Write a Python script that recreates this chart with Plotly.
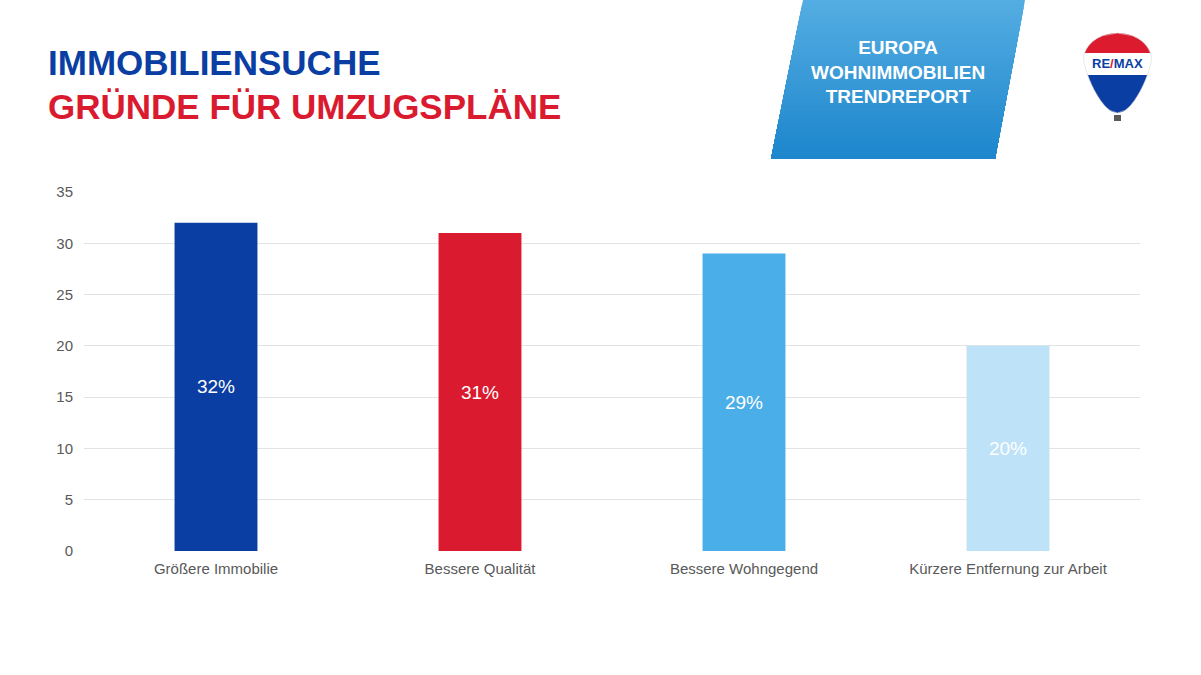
import plotly.graph_objects as go
import numpy as np

# ---------------- data ----------------
categories = ["Größere Immobilie", "Bessere Qualität", "Bessere Wohngegend",
              "Kürzere Entfernung zur Arbeit"]
values = [32, 31, 29, 20]
value_labels = ["32%", "31%", "29%", "20%"]
bar_colors = ["#0A3EA3", "#DA1B2F", "#4AAEE8", "#BEE2F7"]
y_ticks = [0, 5, 10, 15, 20, 25, 30, 35]
title_line1 = "IMMOBILIENSUCHE"
title_line2 = "GRÜNDE FÜR UMZUGSPLÄNE"
banner_lines = ["EUROPA", "WOHNIMMOBILIEN", "TRENDREPORT"]

# ---------------- helpers ----------------
W, H = 1201, 675
FONT = "Liberation Sans, Arial, sans-serif"


def px(x):
    return x / W


def py(y):
    return 1 - y / H


def poly_path(points):
    s = "M " + " L ".join(f"{px(x):.5f},{py(y):.5f}" for x, y in points) + " Z"
    return s


fig = go.Figure(
    go.Bar(
        x=categories,
        y=values,
        text=value_labels,
        textposition="inside",
        insidetextanchor="middle",
        textangle=0,
        constraintext="none",
        textfont=dict(color="white", size=19, family=FONT),
        marker=dict(color=bar_colors, line=dict(width=0)),
        width=0.314,
        hoverinfo="skip",
    )
)

shapes = []

# ----- banner (parallelogram with vertical gradient) -----
top_c = np.array([0x55, 0xAD, 0xE2])
bot_c = np.array([0x1C, 0x86, 0xCC])
N = 40
y0b, y1b = 0.0, 159.0


def left_x(y):
    return 803 + (771 - 803) * (y - y0b) / (y1b - y0b)


def right_x(y):
    return 1025 + (995 - 1025) * (y - y0b) / (y1b - y0b)


for i in range(N):
    ya = y0b + (y1b - y0b) * i / N
    yb = y1b
    t = (i + 0.5) / N
    c = top_c + (bot_c - top_c) * t
    col = "rgb({:.0f},{:.0f},{:.0f})".format(*c)
    shapes.append(dict(
        type="path", xref="paper", yref="paper", layer="above",
        path=poly_path([(left_x(ya), ya), (right_x(ya), ya),
                        (right_x(yb), yb), (left_x(yb), yb)]),
        fillcolor=col, line=dict(width=0)))

# ----- RE/MAX balloon -----
cx, ytop, ymid, ybot, R = 1117.5, 33.0, 60.0, 113.0, 34.0


def half_w(y):
    if y <= ymid:
        t = (ymid - y) / (ymid - ytop)
        return R * np.sqrt(max(0.0, 1 - t * t))
    t = (y - ymid) / (ybot - ymid)
    return R * np.sqrt(max(0.0, 1 - t * t)) * (1 - 0.3 * t)


def band(ya, yb, n=30):
    ys = np.linspace(ya, yb, n)
    left = [(cx - half_w(y), y) for y in ys]
    right = [(cx + half_w(y), y) for y in ys[::-1]]
    return left + right


for (ya, yb, col) in [(ytop, 53.0, "#DC1C2E"), (53.0, 75.0, "#FFFFFF"),
                      (75.0, ybot, "#0A3EA3")]:
    shapes.append(dict(type="path", xref="paper", yref="paper", layer="above",
                       path=poly_path(band(ya, yb)), fillcolor=col,
                       line=dict(width=0)))
shapes.append(dict(type="path", xref="paper", yref="paper", layer="above",
                   path=poly_path(band(ytop, ybot)), fillcolor="rgba(0,0,0,0)",
                   line=dict(width=0.6, color="#D8D8D8")))
# basket
shapes.append(dict(type="rect", xref="paper", yref="paper", layer="above",
                   x0=px(1114), x1=px(1121), y0=py(121), y1=py(115),
                   fillcolor="#5A5A5A", line=dict(width=0)))

annotations = [
    dict(text=f"<b>{title_line1}</b>", x=px(46), y=py(62), xref="paper",
         yref="paper", xanchor="left", yanchor="middle", showarrow=False,
         font=dict(family=FONT, size=35, color="#0A3EA3")),
    dict(text=f"<b>{title_line2}</b>", x=px(46), y=py(106), xref="paper",
         yref="paper", xanchor="left", yanchor="middle", showarrow=False,
         font=dict(family=FONT, size=35, color="#DA1B2F")),
    dict(text="<br>".join(f"<b>{l}</b>" for l in banner_lines),
         x=px(898), y=py(72), xref="paper", yref="paper", xanchor="center",
         yanchor="middle", showarrow=False, align="center",
         font=dict(family=FONT, size=19, color="white")),
    dict(text="<b>RE<span style='color:#DC1C2E'>/</span>MAX</b>",
         x=px(cx), y=py(63), xref="paper", yref="paper", xanchor="center",
         yanchor="middle", showarrow=False,
         font=dict(family=FONT, size=13, color="#0A3EA3")),
]

fig.update_layout(
    width=W, height=H,
    margin=dict(l=0, r=0, t=0, b=0, pad=0, autoexpand=False),
    paper_bgcolor="white", plot_bgcolor="white",
    showlegend=False,
    bargap=0.686,
    font=dict(family=FONT, size=15, color="#595959"),
    xaxis=dict(domain=[84 / W, 1140 / W], automargin=False, showgrid=False,
               showline=False, ticks="", zeroline=False,
               ticklabelstandoff=7,
               tickfont=dict(size=15, color="#595959")),
    yaxis=dict(domain=[124 / H, 483 / H], range=[0, 35], tickvals=y_ticks,
               automargin=False, showgrid=True, gridcolor="#E3E3E3",
               gridwidth=1, zeroline=False, showline=False, ticks="",
               ticklabelstandoff=10, tickfont=dict(size=15, color="#595959")),
    shapes=shapes,
    annotations=annotations,
)

fig.write_html(
    "out.html",
    config={"displayModeBar": False},
    post_script="document.body.style.margin='0px';"
                "document.body.style.overflow='hidden';",
)
